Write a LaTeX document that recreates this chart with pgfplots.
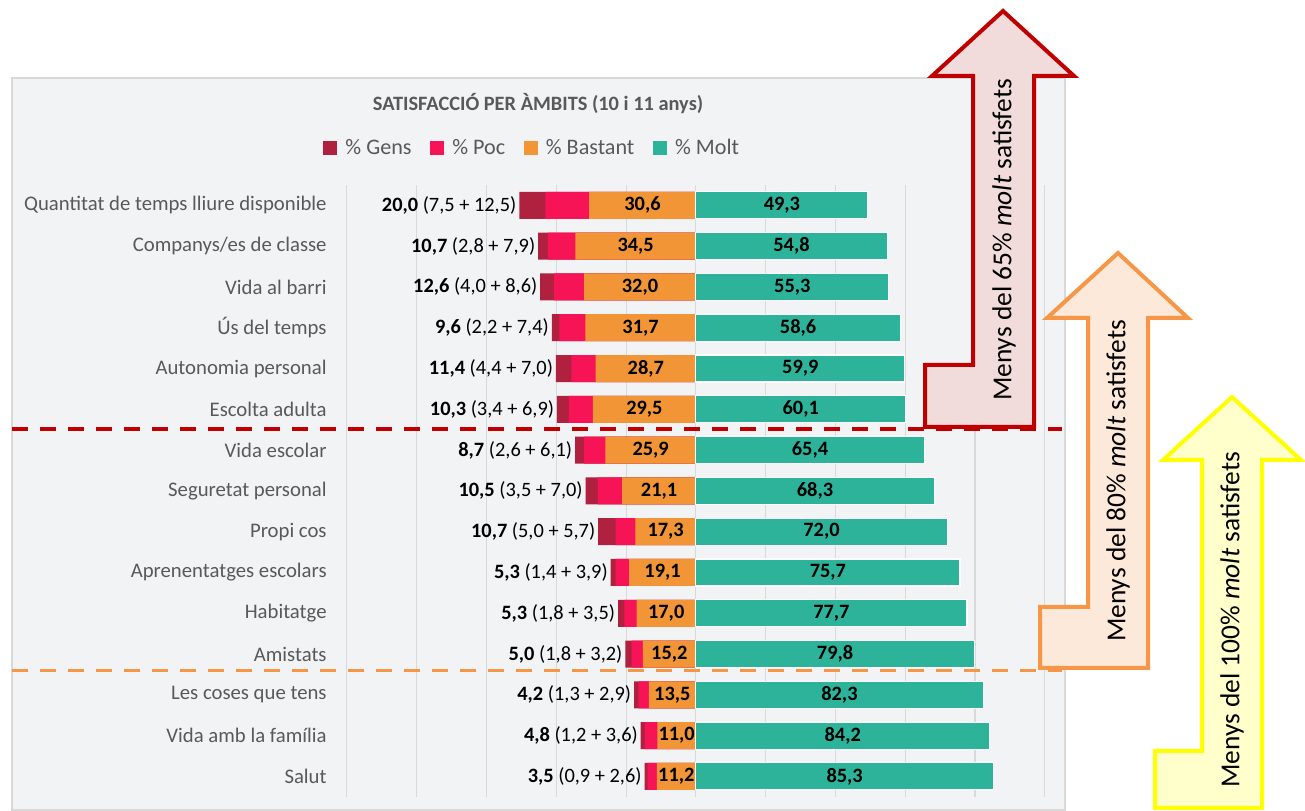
\documentclass[border=0pt]{standalone}
\usepackage{fontspec}
\setmainfont{Carlito}
\usepackage{pgfplots}
\pgfplotsset{compat=1.18}
\usepackage{pgfplotstable}

\definecolor{cgens}{HTML}{B0213F}
\definecolor{cpoc}{HTML}{F71456}
\definecolor{cbast}{HTML}{F19537}
\definecolor{cmolt}{HTML}{2DB39A}
\definecolor{txtgray}{HTML}{595959}
\definecolor{bggray}{HTML}{F2F3F5}
\definecolor{gridgray}{HTML}{D9D9D9}
\definecolor{bordergray}{HTML}{D9D9D9}
\definecolor{redarrow}{HTML}{C00000}
\definecolor{redfill}{HTML}{F2DCDB}
\definecolor{orgarrow}{HTML}{F79646}
\definecolor{orgfill}{HTML}{FDE9D9}
\definecolor{yelarrow}{HTML}{FFFF00}
\definecolor{yelfill}{HTML}{FFFFCC}

\pgfplotstableread[col sep=semicolon]{
y;G;P;B;M;L
14;7.5;12.5;30.6;49.3;\textbf{20,0} (7,5 + 12,5)
13;2.8;7.9;34.5;54.8;\textbf{10,7} (2,8 + 7,9)
12;4.0;8.6;32.0;55.3;\textbf{12,6} (4,0 + 8,6)
11;2.2;7.4;31.7;58.6;\textbf{9,6} (2,2 + 7,4)
10;4.4;7.0;28.7;59.9;\textbf{11,4} (4,4 + 7,0)
9;3.4;6.9;29.5;60.1;\textbf{10,3} (3,4 + 6,9)
8;2.6;6.1;25.9;65.4;\textbf{8,7} (2,6 + 6,1)
7;3.5;7.0;21.1;68.3;\textbf{10,5} (3,5 + 7,0)
6;5.0;5.7;17.3;72.0;\textbf{10,7} (5,0 + 5,7)
5;1.4;3.9;19.1;75.7;\textbf{5,3} (1,4 + 3,9)
4;1.8;3.5;17.0;77.7;\textbf{5,3} (1,8 + 3,5)
3;1.8;3.2;15.2;79.8;\textbf{5,0} (1,8 + 3,2)
2;1.3;2.9;13.5;82.3;\textbf{4,2} (1,3 + 2,9)
1;1.2;3.6;11.0;84.2;\textbf{4,8} (1,2 + 3,6)
0;0.9;2.6;11.2;85.3;\textbf{3,5} (0,9 + 2,6)
}\data

\begin{document}
\begin{tikzpicture}
\begin{scope}[x=0.02cm, y=-0.02cm, shift={(0,16.22cm)}]
  \useasboundingbox (0,0) rectangle (1305,811);
  \filldraw[fill=bggray, draw=bordergray, line width=0.04cm] (12,78) rectangle (1065,810);
  \node[font=\bfseries\fontsize{11.6}{14}\selectfont, text=txtgray] at (538,104) {SATISFACCIÓ PER ÀMBITS (10 i 11 anys)};
\end{scope}

\begin{axis}[
  at={(6.94cm,0.28cm)}, anchor=south west,
  scale only axis, width=13.96cm, height=12.24cm,
  xmin=-100, xmax=100, ymin=-0.5, ymax=14.5,
  xbar, bar width=0.54cm, bar shift=0pt,
  xtick={-100,-80,...,100}, xticklabels={},
  xmajorgrids, major grid style={gridgray, line width=0.6pt},
  ytick={0,...,14},
  yticklabels={Salut, Vida amb la família, Les coses que tens, Amistats, Habitatge, Aprenentatges escolars, Propi cos, Seguretat personal, Vida escolar, Escolta adulta, Autonomia personal, Ús del temps, Vida al barri, Companys/es de classe, Quantitat de temps lliure disponible},
  axis line style={draw=none},
  major tick length=0pt,
  yticklabel style={font=\fontsize{11.8}{14}\selectfont, text=txtgray, inner sep=0pt, xshift=-0.4cm},
  /pgf/number format/assume math mode=true,
  legend style={at={(0.2665,1.0605)}, anchor=center, draw=none, fill=none, font=\fontsize{12.6}{15}\selectfont, text=txtgray, legend columns=4, /tikz/every even column/.append style={column sep=0.3cm}},
  clip=false,
]
\addplot[fill=cgens, draw=none, forget plot] table[x expr=-\thisrow{G}-\thisrow{P}-\thisrow{B}, y=y] {\data};
\addplot[fill=cpoc, draw=none, forget plot] table[x expr=-\thisrow{P}-\thisrow{B}, y=y] {\data};
\addplot[fill=cbast, draw=none, forget plot] table[x expr=-\thisrow{B}, y=y] {\data};
\addplot[fill=cmolt, draw=white, line width=0.6pt, forget plot] table[x=M, y=y] {\data};

\addplot[draw=none, fill=none, forget plot, nodes near coords, point meta=explicit symbolic,
  every node near coord/.append style={anchor=east, font=\fontsize{11.6}{14}\selectfont, text=black, inner sep=1.5pt}]
  table[x expr=-\thisrow{G}-\thisrow{P}-\thisrow{B}, y=y, meta=L] {\data};
\addplot[draw=none, fill=none, forget plot,
  nodes near coords={\textbf{\pgfmathprintnumber[fixed,fixed zerofill,precision=1,use comma]{\pgfplotspointmeta}}},
  point meta=explicit,
  every node near coord/.append style={anchor=center, font=\fontsize{11.6}{14}\selectfont, text=black}]
  table[x expr=-\thisrow{B}/2, y=y, meta=B] {\data};
\addplot[draw=none, fill=none, forget plot,
  nodes near coords={\textbf{\pgfmathprintnumber[fixed,fixed zerofill,precision=1,use comma]{\pgfplotspointmeta}}},
  point meta=explicit,
  every node near coord/.append style={anchor=center, font=\fontsize{11.6}{14}\selectfont, text=black}]
  table[x expr=\thisrow{M}/2, y=y, meta=M] {\data};

\addlegendimage{legend image code/.code={\fill[cgens] (0cm,-0.13cm) rectangle (0.26cm,0.13cm); \path (0.36cm,0cm);}}
\addlegendentry{\% Gens}
\addlegendimage{legend image code/.code={\fill[cpoc] (0cm,-0.13cm) rectangle (0.26cm,0.13cm); \path (0.36cm,0cm);}}
\addlegendentry{\% Poc}
\addlegendimage{legend image code/.code={\fill[cbast] (0cm,-0.13cm) rectangle (0.26cm,0.13cm); \path (0.36cm,0cm);}}
\addlegendentry{\% Bastant}
\addlegendimage{legend image code/.code={\fill[cmolt] (0cm,-0.13cm) rectangle (0.26cm,0.13cm); \path (0.36cm,0cm);}}
\addlegendentry{\% Molt}
\end{axis}

\begin{scope}[x=0.02cm, y=-0.02cm, shift={(0,16.22cm)}]
  \draw[redarrow, line width=0.07cm, dash pattern=on 0.32cm off 0.24cm] (12,429) -- (1062,429);
  \draw[orgarrow, line width=0.07cm, dash pattern=on 0.32cm off 0.24cm] (12,670.5) -- (1062,670.5);
  \filldraw[draw=redarrow, fill=redfill, line width=0.08cm, miter limit=10]
    (1003,11) -- (1074,76) -- (1034,76) -- (1034,427) -- (925,427) -- (925,365) -- (973,365) -- (973,76) -- (932,76) -- cycle;
  \node[rotate=90, font=\fontsize{15.6}{18}\selectfont] at (1004,240) {Menys del 65\% \textit{molt} satisfets};
  \filldraw[draw=orgarrow, fill=orgfill, line width=0.08cm, miter limit=10]
    (1118,253) -- (1188,318) -- (1148,318) -- (1148,668) -- (1040,668) -- (1040,607) -- (1088,607) -- (1088,318) -- (1047,318) -- cycle;
  \node[rotate=90, font=\fontsize{15.6}{18}\selectfont] at (1118,481) {Menys del 80\% \textit{molt} satisfets};
  \filldraw[draw=yelarrow, fill=yelfill, line width=0.08cm, miter limit=10]
    (1232,397) -- (1301,460) -- (1262,460) -- (1262,808) -- (1155,808) -- (1155,751) -- (1202,751) -- (1202,460) -- (1163,460) -- cycle;
  \node[rotate=90, font=\fontsize{15.6}{18}\selectfont] at (1232,620) {Menys del 100\% \textit{molt} satisfets};
\end{scope}
\end{tikzpicture}
\end{document}
